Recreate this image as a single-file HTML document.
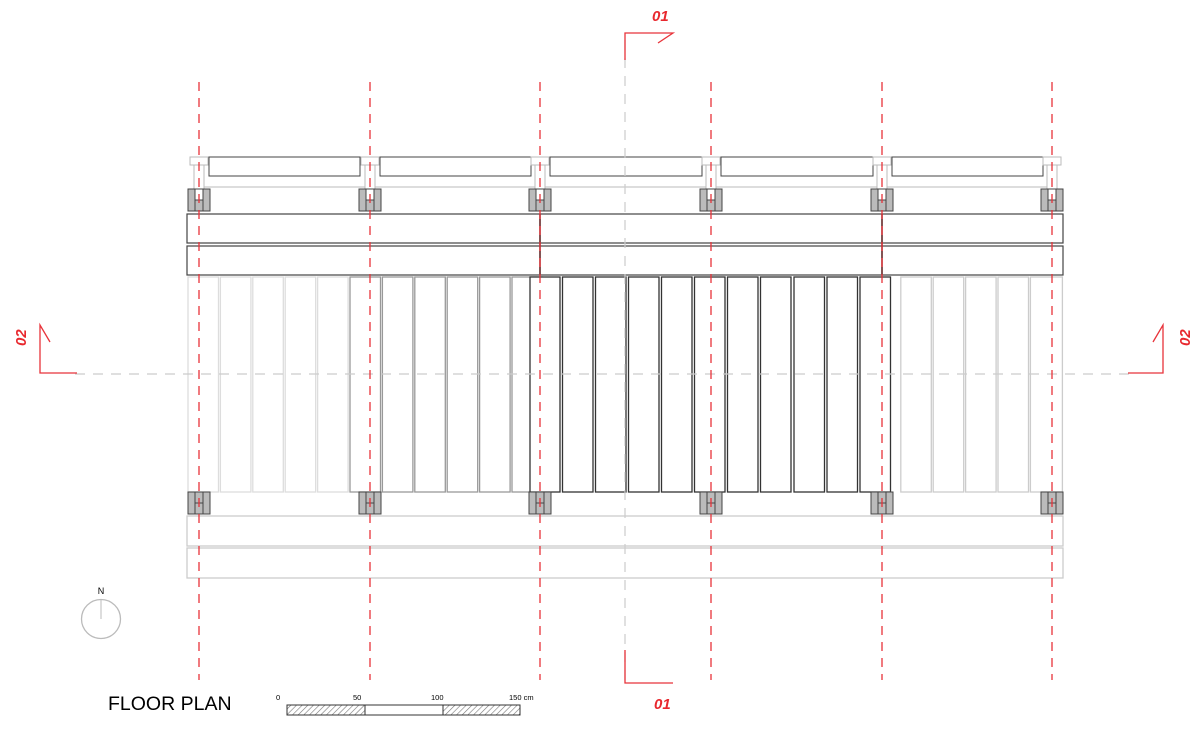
<!DOCTYPE html>
<html><head><style>body{margin:0;background:#fff}svg{display:block}</style></head><body>
<svg width="1200" height="732" viewBox="0 0 1200 732" xmlns="http://www.w3.org/2000/svg" font-family="Liberation Sans, Arial, sans-serif">
<rect width="1200" height="732" fill="#fff"/>
<defs>
<pattern id="h" width="4" height="4" patternUnits="userSpaceOnUse" patternTransform="rotate(45)"><rect width="4" height="4" fill="#fff"/><line x1="0" y1="0" x2="0" y2="4" stroke="#777" stroke-width="1.2"/></pattern>
<g id="pt"><rect x="-11" y="0" width="22" height="22" fill="#bbb" stroke="#444"/><line x1="-4" y1="0" x2="-4" y2="22" stroke="#444"/><line x1="4" y1="0" x2="4" y2="22" stroke="#444"/></g>
<g id="top"><rect x="-9" y="157" width="18" height="8" fill="#fff" stroke="#bbb"/><rect x="-5" y="165" width="10" height="24" fill="#fff" stroke="#bbb"/></g>
</defs>
<line x1="195" y1="157" x2="1056" y2="157" stroke="#bbb"/>
<line x1="195" y1="187" x2="1056" y2="187" stroke="#bbb"/>
<g fill="#fff" stroke="#444">
<rect x="209" y="157" width="151" height="19"/><rect x="380" y="157" width="151" height="19"/><rect x="550" y="157" width="152" height="19"/><rect x="721" y="157" width="152" height="19"/><rect x="892" y="157" width="151" height="19"/>
</g>
<use href="#top" x="199"/><use href="#top" x="370"/><use href="#top" x="540"/><use href="#top" x="711"/><use href="#top" x="882"/><use href="#top" x="1052"/>
<g fill="#fff" stroke="#444" stroke-width="1.2">
<rect x="187" y="214" width="876" height="29"/><rect x="187" y="246" width="876" height="29"/>
</g>
<g stroke="#5a1a1a" stroke-width="1.5"><line x1="540" y1="214" x2="540" y2="275"/><line x1="882" y1="214" x2="882" y2="275"/></g>
<g fill="#fff" stroke-width="1.3">
<g stroke="#ddd"><rect x="188" y="277" width="30.5" height="215"/><rect x="220.4" y="277" width="30.5" height="215"/><rect x="252.8" y="277" width="30.5" height="215"/><rect x="285.2" y="277" width="30.5" height="215"/><rect x="317.6" y="277" width="30.5" height="215"/></g>
<g stroke="#999"><rect x="350" y="277" width="30.5" height="215"/><rect x="382.4" y="277" width="30.5" height="215"/><rect x="414.8" y="277" width="30.5" height="215"/><rect x="447.2" y="277" width="30.5" height="215"/><rect x="479.6" y="277" width="30.5" height="215"/><rect x="512" y="277" width="30.5" height="215"/></g>
<g stroke="#333"><rect x="530" y="277" width="30" height="215"/><rect x="562.5" y="277" width="30.5" height="215"/><rect x="595.5" y="277" width="30.5" height="215"/><rect x="628.5" y="277" width="30.5" height="215"/><rect x="661.5" y="277" width="30.5" height="215"/><rect x="694.5" y="277" width="30.5" height="215"/><rect x="727.5" y="277" width="30.5" height="215"/><rect x="760.5" y="277" width="30.5" height="215"/><rect x="794" y="277" width="30.5" height="215"/><rect x="827" y="277" width="30.5" height="215"/><rect x="860" y="277" width="30.5" height="215"/></g>
<g stroke="#ccc"><rect x="900.8" y="277" width="30.5" height="215"/><rect x="933.2" y="277" width="30.5" height="215"/><rect x="965.6" y="277" width="30.5" height="215"/><rect x="998" y="277" width="30.5" height="215"/><rect x="1030.4" y="277" width="32" height="215"/></g>
</g>
<g fill="#fff" stroke="#ccc" stroke-width="1.3">
<rect x="187" y="516" width="876" height="30"/><rect x="187" y="548" width="876" height="30"/>
</g>
<g>
<use href="#pt" x="199" y="189"/><use href="#pt" x="370" y="189"/><use href="#pt" x="540" y="189"/><use href="#pt" x="711" y="189"/><use href="#pt" x="882" y="189"/><use href="#pt" x="1052" y="189"/>
<use href="#pt" x="199" y="492"/><use href="#pt" x="370" y="492"/><use href="#pt" x="540" y="492"/><use href="#pt" x="711" y="492"/><use href="#pt" x="882" y="492"/><use href="#pt" x="1052" y="492"/>
</g>
<g fill="#fff" stroke="#444">
<rect x="195" y="189" width="8" height="11"/><rect x="366" y="189" width="8" height="11"/><rect x="536" y="189" width="8" height="11"/><rect x="707" y="189" width="8" height="11"/><rect x="878" y="189" width="8" height="11"/><rect x="1048" y="189" width="8" height="11"/>
</g>
<g stroke="#444"><line x1="195" y1="503" x2="203" y2="503"/><line x1="366" y1="503" x2="374" y2="503"/><line x1="536" y1="503" x2="544" y2="503"/><line x1="707" y1="503" x2="715" y2="503"/><line x1="878" y1="503" x2="886" y2="503"/><line x1="1048" y1="503" x2="1056" y2="503"/></g>
<g stroke="#ccc" stroke-width="1.2" stroke-dasharray="10,8">
<line x1="625" y1="40" x2="625" y2="680"/><line x1="75" y1="374" x2="1130" y2="374"/>
</g>
<g stroke="#e8333a" stroke-width="1.3" stroke-dasharray="9,7">
<line x1="199" y1="82" x2="199" y2="680"/><line x1="370" y1="82" x2="370" y2="680"/><line x1="540" y1="82" x2="540" y2="680"/><line x1="711" y1="82" x2="711" y2="680"/><line x1="882" y1="82" x2="882" y2="680"/><line x1="1052" y1="82" x2="1052" y2="680"/>
</g>
<g stroke="#e8333a" stroke-width="1.3" fill="none">
<polyline points="625,60 625,33 673,33 658,43"/>
<polyline points="625,650 625,683 673,683"/>
<polyline points="50,342 40,325 40,373 77,373"/>
<polyline points="1153,342 1163,325 1163,373 1128,373"/>
</g>
<g fill="#e8282e" font-weight="bold" font-style="italic" font-size="15">
<text x="652" y="21">01</text>
<text x="654" y="709">01</text>
<text transform="translate(26,346) rotate(-90)">02</text>
<text transform="translate(1190,346) rotate(-90)">02</text>
</g>
<circle cx="101" cy="619" r="19.5" fill="none" stroke="#bbb" stroke-width="1.3"/>
<line x1="101" y1="600" x2="101" y2="619" stroke="#bbb"/>
<text x="101" y="594" font-size="9" text-anchor="middle">N</text>
<text x="108" y="710" font-size="19.5">FLOOR PLAN</text>
<g font-size="7.5"><text x="276" y="700">0</text><text x="353" y="700">50</text><text x="431" y="700">100</text><text x="509" y="700">150 cm</text></g>
<rect x="287" y="705" width="78" height="10" fill="url(#h)" stroke="#333"/>
<rect x="365" y="705" width="78" height="10" fill="#fff" stroke="#333"/>
<rect x="443" y="705" width="77" height="10" fill="url(#h)" stroke="#333"/>
</svg>
</body></html>
